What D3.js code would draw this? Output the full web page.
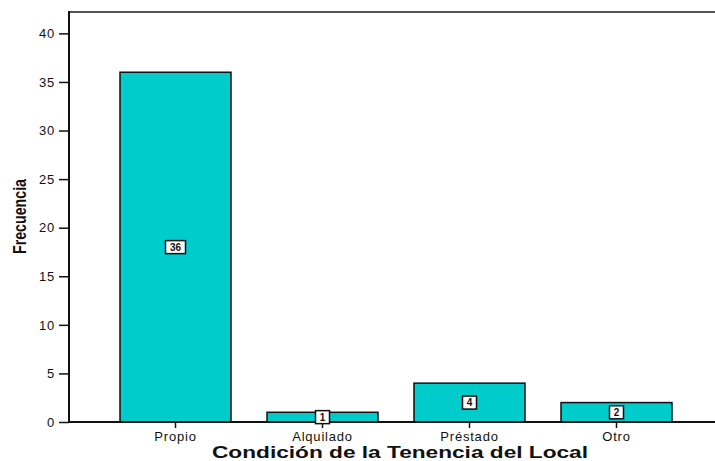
<!DOCTYPE html>
<html><head><meta charset="utf-8">
<script src="https://cdn.jsdelivr.net/npm/d3@7"></script>
<style>body{margin:0;background:#fff}svg{display:block}</style>
</head><body>
<script>
const categories = ["Propio", "Alquilado", "Préstado", "Otro"];
const values = [36, 1, 4, 2];
const yTicks = [0, 5, 10, 15, 20, 25, 30, 35, 40];
const xTitle = "Condición de la Tenencia del Local";
const yTitle = "Frecuencia";

const W = 715, H = 461;
const svg = d3.select("body").append("svg").attr("width", W).attr("height", H);
const mLeft = 69, mRight = 715, mTop = 12, mBottom = 422;
const FONT = "Arial, Liberation Sans, sans-serif";

const y = d3.scaleLinear().domain([0, 42.2]).range([mBottom, mTop]);
const x = d3.scaleBand().domain(categories).range([102, 690]).paddingInner(0.245).paddingOuter(0.1225);

// top frame line
svg.append("line").attr("x1", mLeft).attr("x2", mRight).attr("y1", mTop).attr("y2", mTop)
  .attr("stroke", "#555").attr("stroke-width", 2);

// bars
svg.selectAll("rect.bar").data(values).join("rect").attr("class", "bar")
  .attr("x", (d, i) => x(categories[i]))
  .attr("y", d => y(d))
  .attr("width", x.bandwidth())
  .attr("height", d => y(0) - y(d))
  .attr("fill", "#00CCCC").attr("stroke", "#111").attr("stroke-width", 1.5);

// y axis
const yAxis = svg.append("g").attr("transform", `translate(${mLeft},0)`)
  .call(d3.axisLeft(y).tickValues(yTicks).tickSize(10).tickPadding(4).tickSizeOuter(0));
yAxis.select(".domain").remove();
yAxis.selectAll("line").attr("stroke", "#111").attr("stroke-width", 1.5);
yAxis.selectAll("text").attr("font-family", FONT).attr("font-size", 13).attr("letter-spacing", 0.8).attr("fill", "#111");
svg.append("line").attr("x1", mLeft).attr("x2", mLeft).attr("y1", mTop - 1).attr("y2", mBottom + 1)
  .attr("stroke", "#111").attr("stroke-width", 2);

// x axis
const xAxis = svg.append("g").attr("transform", `translate(0,${mBottom})`)
  .call(d3.axisBottom(x).tickSize(6).tickPadding(4).tickSizeOuter(0));
xAxis.select(".domain").remove();
xAxis.selectAll("line").attr("stroke", "#111").attr("stroke-width", 1.5);
xAxis.selectAll("text").attr("font-family", FONT).attr("font-size", 13).attr("letter-spacing", 0.8).attr("fill", "#111");
svg.append("line").attr("x1", mLeft).attr("x2", mRight).attr("y1", mBottom).attr("y2", mBottom)
  .attr("stroke", "#111").attr("stroke-width", 2);

// value labels
const lab = svg.selectAll("g.lab").data(values).join("g").attr("class", "lab")
  .attr("transform", (d, i) => `translate(${x(categories[i]) + x.bandwidth() / 2},${y(d / 2)})`);
lab.append("rect")
  .attr("x", d => String(d).length > 1 ? -10 : -7)
  .attr("y", -6.5)
  .attr("width", d => String(d).length > 1 ? 20 : 14)
  .attr("height", 13)
  .attr("fill", "#fff").attr("stroke", "#111").attr("stroke-width", 1.5);
lab.append("text").text(d => d)
  .attr("text-anchor", "middle").attr("dy", "0.36em")
  .attr("font-family", FONT).attr("font-size", 10).attr("font-weight", "bold").attr("fill", "#111");

// titles
svg.append("text").text(xTitle).attr("x", 212).attr("y", 458)
  .attr("textLength", 376).attr("lengthAdjust", "spacingAndGlyphs")
  .attr("font-family", FONT).attr("font-size", 16).attr("font-weight", "bold").attr("fill", "#111");
svg.append("text").text(yTitle).attr("transform", "translate(26,254) rotate(-90)")
  .attr("textLength", 75).attr("lengthAdjust", "spacingAndGlyphs")
  .attr("font-family", FONT).attr("font-size", 18).attr("font-weight", "bold").attr("fill", "#111");
</script>
</body></html>
